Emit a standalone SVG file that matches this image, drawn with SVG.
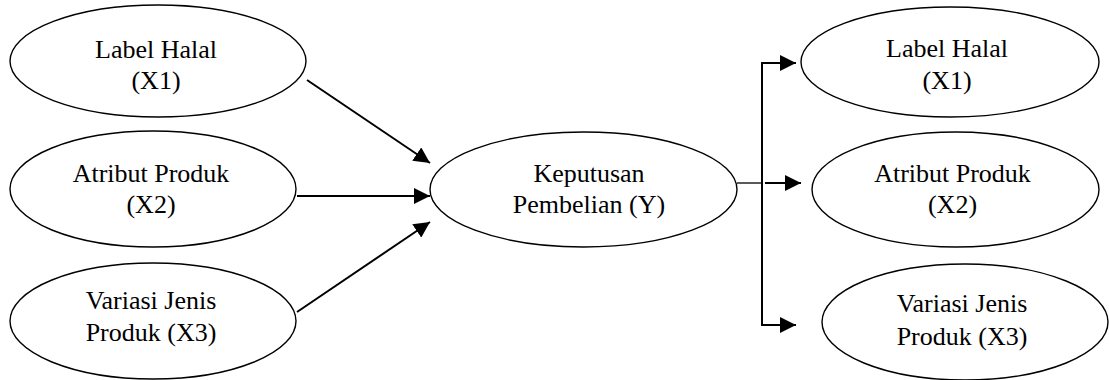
<svg xmlns="http://www.w3.org/2000/svg" width="1109" height="380" viewBox="0 0 1109 380">
<style>
.node ellipse{fill:#fff;stroke:#000;stroke-width:1.4}
.node text{font-size:26px;fill:#000;text-anchor:middle}
.conn{fill:none;stroke:#000;stroke-width:2}
.thin{fill:none;stroke:#000;stroke-width:1.3}
</style>
<defs>
<marker id="ah" viewBox="0 0 10 10" refX="10" refY="5" markerWidth="8" markerHeight="8" markerUnits="strokeWidth" orient="auto">
<path d="M0,0 L10,5 L0,10 z" fill="#000"/>
</marker>
</defs>
<g id="connectors">
<line class="conn" x1="307" y1="80" x2="430" y2="163" marker-end="url(#ah)"/>
<line class="conn" x1="297" y1="196" x2="430" y2="196" marker-end="url(#ah)"/>
<line class="conn" x1="297" y1="312" x2="430" y2="222" marker-end="url(#ah)"/>
<line class="thin" x1="737" y1="183" x2="762" y2="183"/>
<path class="conn" d="M796,63 L762,63 L762,325 L796,325" marker-end="url(#ah)"/>
<line class="conn" x1="765" y1="183" x2="801" y2="183" marker-end="url(#ah)"/>
<line class="conn" x1="762" y1="63" x2="796" y2="63" marker-end="url(#ah)"/>
</g>
<g font-family="'Liberation Serif', Tinos, 'Times New Roman', 'DejaVu Serif', serif">
<g id="x1-left" class="node">
<ellipse cx="158" cy="61" rx="148" ry="56"/>
<text x="156" y="58">Label Halal</text>
<text x="156" y="89">(X1)</text>
</g>
<g id="x2-left" class="node">
<ellipse cx="153" cy="189" rx="143" ry="58"/>
<text x="151" y="182">Atribut Produk</text>
<text x="151" y="213">(X2)</text>
</g>
<g id="x3-left" class="node">
<ellipse cx="153" cy="321" rx="143" ry="58"/>
<text x="151" y="309">Variasi Jenis</text>
<text x="151" y="341">Produk (X3)</text>
</g>
<g id="y-center" class="node">
<ellipse cx="583.5" cy="189.5" rx="153.5" ry="57.5"/>
<text x="589" y="182">Keputusan</text>
<text x="589" y="213">Pembelian (Y)</text>
</g>
<g id="x1-right" class="node">
<ellipse cx="950" cy="62" rx="149" ry="55"/>
<text x="947" y="57">Label Halal</text>
<text x="947" y="89">(X1)</text>
</g>
<g id="x2-right" class="node">
<ellipse cx="955.5" cy="189.5" rx="143.5" ry="57.5"/>
<text x="952.5" y="182">Atribut Produk</text>
<text x="952.5" y="213">(X2)</text>
</g>
<g id="x3-right" class="node">
<ellipse cx="965" cy="322" rx="143" ry="58"/>
<text x="962" y="312">Variasi Jenis</text>
<text x="962" y="345">Produk (X3)</text>
</g>
</g>
</svg>
